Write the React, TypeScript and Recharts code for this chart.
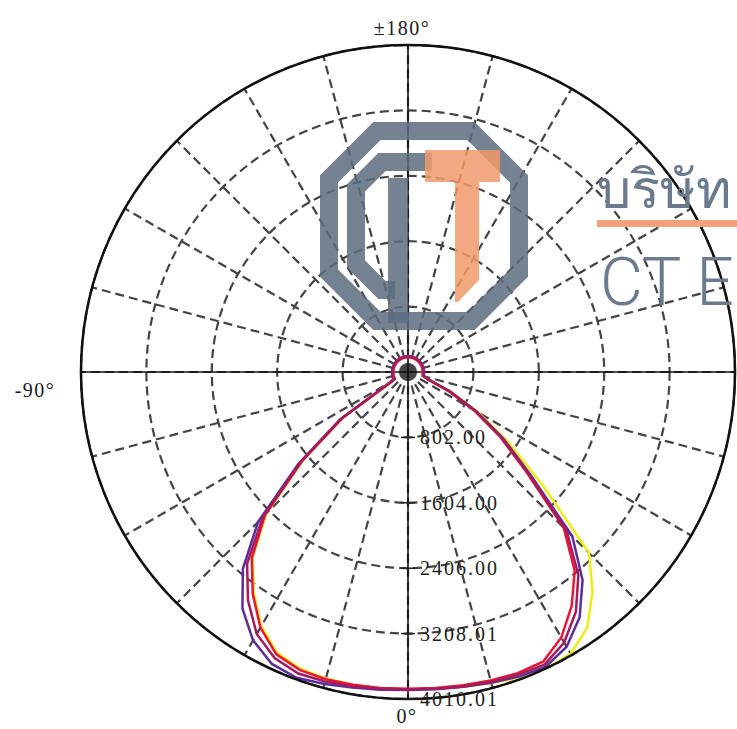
import { RadarChart, Radar, PolarGrid, PolarAngleAxis, PolarRadiusAxis } from "recharts";

// angle from nadir: 0° down, +90° right, ±180° up (step 5°)
const angles = [
  -180, -175, -170, -165, -160, -155, -150, -145, -140, -135, -130, -125,
  -120, -115, -110, -105, -100, -95, -90, -85, -80, -75, -70, -65,
  -60, -55, -50, -45, -40, -35, -30, -25, -20, -15, -10, -5,
  0, 5, 10, 15, 20, 25, 30, 35, 40, 45, 50, 55,
  60, 65, 70, 75, 80, 85, 90, 95, 100, 105, 110, 115,
  120, 125, 130, 135, 140, 145, 150, 155, 160, 165, 170, 175,
];

const yellowCd = [
  185, 185, 185, 185, 185, 185, 185, 185, 185, 185, 185, 185,
  185, 185, 185, 185, 185, 185, 185, 185, 185, 185, 185, 185,
  215, 970, 1680, 2460, 2960, 3300, 3600, 3800, 3870, 3890, 3895, 3895,
  3895, 3900, 3920, 3950, 3990, 4010, 3990, 3830, 3520, 3140, 2150, 1500,
  1000, 590, 270, 200, 185, 185, 185, 185, 185, 185, 185, 185,
  185, 185, 185, 185, 185, 185, 185, 185, 185, 185, 185, 185,
];

const purpleCd = [
  195, 195, 195, 195, 195, 195, 195, 195, 195, 195, 195, 195,
  195, 195, 195, 195, 195, 195, 195, 195, 195, 195, 195, 195,
  240, 1020, 1760, 2600, 3150, 3540, 3800, 3950, 3990, 3960, 3930, 3910,
  3900, 3905, 3920, 3945, 3975, 3990, 3890, 3670, 3330, 2850, 1960, 1430,
  970, 570, 265, 205, 195, 195, 195, 195, 195, 195, 195, 195,
  195, 195, 195, 195, 195, 195, 195, 195, 195, 195, 195, 195,
];

const redCd = [
  180, 180, 180, 180, 180, 180, 180, 180, 180, 180, 180, 180,
  180, 180, 180, 180, 180, 180, 180, 180, 180, 180, 180, 180,
  220, 980, 1690, 2480, 2980, 3320, 3620, 3820, 3887, 3900, 3895, 3890,
  3885, 3890, 3900, 3915, 3930, 3920, 3760, 3500, 3180, 2700, 1880, 1370,
  930, 550, 255, 195, 180, 180, 180, 180, 180, 180, 180, 180,
  180, 180, 180, 180, 180, 180, 180, 180, 180, 180, 180, 180,
];

const magentaCd = [
  190, 190, 190, 190, 190, 190, 190, 190, 190, 190, 190, 190,
  190, 190, 190, 190, 190, 190, 190, 190, 190, 190, 190, 190,
  230, 1000, 1720, 2520, 3070, 3420, 3710, 3870, 3935, 3930, 3915, 3900,
  3895, 3900, 3915, 3935, 3950, 3960, 3830, 3590, 3250, 2750, 1920, 1400,
  950, 560, 260, 200, 190, 190, 190, 190, 190, 190, 190, 190,
  190, 190, 190, 190, 190, 190, 190, 190, 190, 190, 190, 190,
];

const angleTicks = [
  -180, -165, -150, -135, -120, -105, -90, -75, -60, -45, -30, -15,
  0, 15, 30, 45, 60, 75, 90, 105, 120, 135, 150, 165,
];
const radiusTicks = [802.0, 1604.0, 2406.0, 3208.01, 4010.01];
const radiusMax = 4010.01;

const angleLabels: Record<number, string> = { [-180]: "±180°", [-90]: "-90°", 0: "0°" };

const data = angles.map((a, i) => ({
  angle: a,
  yellow: yellowCd[i],
  purple: purpleCd[i],
  red: redCd[i],
  magenta: magentaCd[i],
}));

const serif = "'Liberation Serif', 'Times New Roman', serif";

function AngleTick(props: any) {
  const { x, y, payload } = props;
  const label = angleLabels[payload.value];
  if (!label) return null;
  let dx = 0;
  let dy = 0;
  if (payload.value === -180) { dx = -6; dy = -2; }
  if (payload.value === 0) { dx = -1; dy = 16; }
  if (payload.value === -90) { dx = -38; dy = 25; }
  return (
    <text x={x + dx} y={y + dy} textAnchor="middle" fontFamily={serif} fontSize={20}
      letterSpacing={1.5} fill="#1a1a1a">
      {label}
    </text>
  );
}

function RadiusTick(props: any) {
  const { x, y, payload } = props;
  return (
    <g>
      <line x1={x - 7} y1={y} x2={x + 7} y2={y} stroke="#222" strokeWidth={1.5} />
      <text x={x + 12} y={y + 7} textAnchor="start" fontFamily={serif} fontSize={20}
        letterSpacing={2} fill="#222">
        {Number(payload.value).toFixed(2)}
      </text>
    </g>
  );
}

// company watermark lying over the picture
function Watermark() {
  const slate = "#5d6d80";
  return (
    <svg width={737} height={729} style={{ position: "absolute", left: 0, top: 0, pointerEvents: "none" }}>
      <g opacity={0.85} fill="none" stroke={slate} strokeWidth={18} strokeLinejoin="miter">
        <path d="M377 131 L471 131 L519 179 L519 273 L471 321 L377 321 L329 273 L329 179 Z" />
        <path d="M432 162 L382 162 L356 188 L356 264 L382 290 L395 290" />
      </g>
      <rect x={388} y={178} width={20} height={145} fill={slate} opacity={0.85} />
      <g fill="#f09a6a" opacity={0.85}>
        <rect x={425} y={150} width={75} height={32} />
        <path d="M455 150 L479 150 L479 280 L458 302 L455 302 Z" />
      </g>
      <text x={597} y={208} fontFamily="'Noto Sans', sans-serif" fontSize={54} fill="#6b7a8c">
        บริษัท
      </text>
      <rect x={597} y={220} width={140} height={7} fill="#f2a27a" />
      <text x={600} y={305} fontFamily="Roboto, sans-serif" fontWeight={300} fontSize={66} fill="#6b7a8c">
        CT E
      </text>
    </svg>
  );
}

export default function App() {
  return (
    <div style={{ position: "absolute", left: 0, top: 0, width: 737, height: 729, background: "#fff", overflow: "hidden" }}>
      <RadarChart
        width={737}
        height={729}
        data={data}
        cx={408}
        cy={372}
        innerRadius={0}
        outerRadius={327}
        startAngle={-270}
        endAngle={90}
        margin={{ top: 0, right: 0, bottom: 0, left: 0 }}
      >
        <PolarGrid gridType="circle" stroke="#444" strokeWidth={2.2} strokeDasharray="9 5" />
        <PolarGrid gridType="circle" polarAngles={[0, 90, 180, 270]} polarRadius={[]} stroke="#111" strokeWidth={1.6} />
        <PolarAngleAxis
          dataKey="angle"
          type="number"
          domain={[-180, 180]}
          ticks={angleTicks}
          axisLineType="circle"
          axisLine={{ stroke: "#111", strokeWidth: 2.5 }}
          tickLine={false}
          tick={<AngleTick />}
        />
        <PolarRadiusAxis
          angle={-90}
          type="number"
          domain={[0, radiusMax]}
          ticks={radiusTicks}
          allowDataOverflow
          axisLine={false}
          tick={<RadiusTick />}
        />
        <Radar dataKey="yellow" stroke="#ecec1a" strokeWidth={2.5} fill="none" dot={false} isAnimationActive={false} />
        <Radar dataKey="purple" stroke="#5b2e9c" strokeWidth={2.5} fill="none" dot={false} isAnimationActive={false} />
        <Radar dataKey="red" stroke="#ea1533" strokeWidth={2.5} fill="none" dot={false} isAnimationActive={false} />
        <Radar dataKey="magenta" stroke="#a31c5e" strokeWidth={2.5} fill="none" dot={false} isAnimationActive={false} />
      </RadarChart>
      <Watermark />
    </div>
  );
}
